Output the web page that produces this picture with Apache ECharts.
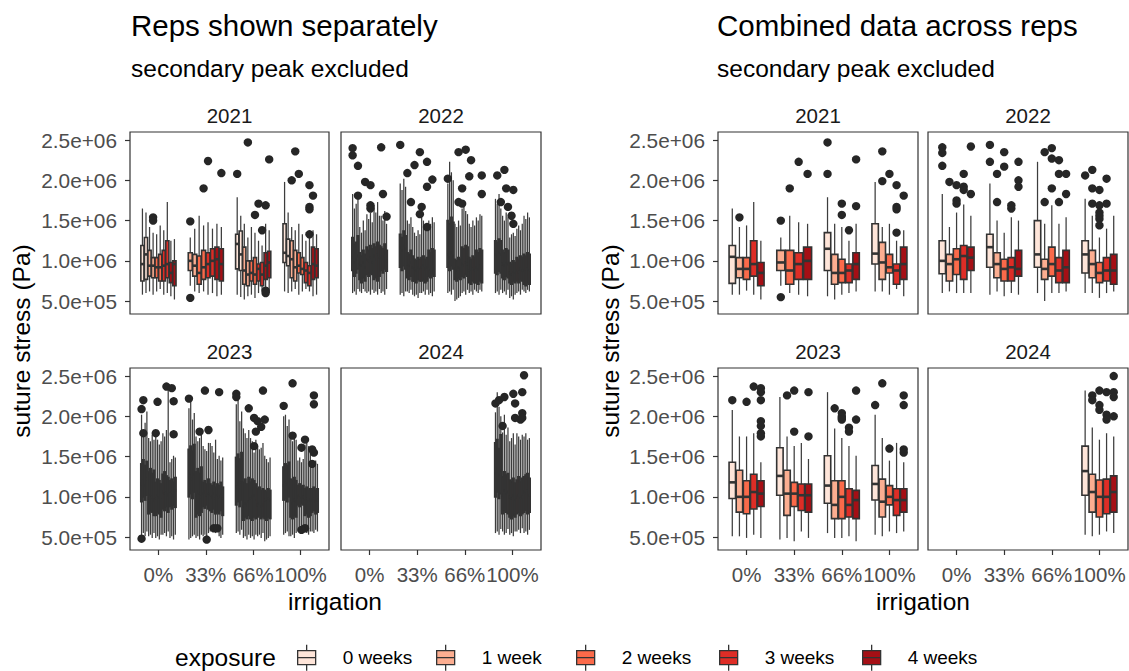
<!DOCTYPE html>
<html>
<head>
<meta charset="utf-8">
<script src="https://cdn.jsdelivr.net/npm/echarts@6/dist/echarts.min.js"></script>
<style>
  html, body { margin: 0; padding: 0; background: #ffffff; }
  #chart { width: 1129px; height: 671px; }
</style>
</head>
<body>
<div id="chart"></div>
<script>
// ---- categories and tick labels ----
const years = ['2021', '2022', '2023', '2024'];
const irrigation = ['0%', '33%', '66%', '100%'];
const exposure = ['0 weeks', '1 week', '2 weeks', '3 weeks', '4 weeks'];
const exposureColors = ['#FEE5D9', '#FCAE91', '#FB6A4A', '#DE2D26', '#A50F15'];
const stressTicksMPa = [0.5, 1.0, 1.5, 2.0, 2.5];
const stressTickLabels = ['5.0e+05', '1.0e+06', '1.5e+06', '2.0e+06', '2.5e+06'];
const PA_PER_MPA = 1e6;

// ---- combined data: [irrigation, exposure, lower whisker, Q1, median, Q3, upper whisker] (MPa) ----
const combined2021 = [
  [0,0,0.58,0.72,1.05,1.19,1.65],[0,1,0.58,0.79,0.90,1.04,1.42],[0,2,0.63,0.77,0.90,1.04,1.44],[0,3,0.58,0.81,0.96,1.25,1.73],[0,4,0.52,0.69,0.85,0.98,1.25],
  [1,1,0.69,0.88,0.98,1.13,1.29],[1,2,0.60,0.71,0.88,1.13,1.56],[1,3,0.58,0.77,0.96,1.10,1.48],[1,4,0.56,0.77,1.00,1.17,1.46],
  [2,0,0.56,0.88,1.15,1.35,1.79],[2,1,0.52,0.71,0.85,1.08,1.46],[2,2,0.58,0.73,0.85,1.02,1.42],[2,3,0.60,0.73,0.88,0.96,1.25],[2,4,0.62,0.77,0.96,1.10,1.46],
  [3,0,0.62,0.96,1.09,1.46,1.98],[3,1,0.62,0.77,0.98,1.23,1.42],[3,2,0.58,0.85,0.92,1.08,1.46],[3,3,0.65,0.71,0.88,0.96,1.25],[3,4,0.56,0.77,0.96,1.17,1.38]
];
const combined2022 = [
  [0,0,0.60,0.84,1.00,1.25,1.83],[0,1,0.62,0.75,0.96,1.08,1.42],[0,2,0.60,0.83,1.02,1.15,1.60],[0,3,0.60,0.77,1.06,1.19,1.70],[0,4,0.60,0.88,1.04,1.17,1.56],
  [1,0,0.58,0.92,1.17,1.33,1.96],[1,1,0.62,0.79,0.96,1.10,1.50],[1,2,0.56,0.75,0.90,1.02,1.35],[1,3,0.60,0.75,0.92,1.04,1.54],[1,4,0.58,0.81,0.90,1.13,1.50],
  [2,0,0.60,0.92,1.08,1.50,2.23],[2,1,0.50,0.77,0.90,1.02,1.46],[2,2,0.60,0.81,0.96,1.17,1.69],[2,3,0.60,0.73,0.88,1.04,1.46],[2,4,0.62,0.73,0.92,1.13,1.54],
  [3,0,0.60,0.85,1.08,1.25,1.77],[3,1,0.60,0.79,0.96,1.13,1.56],[3,2,0.54,0.73,0.85,0.98,1.29],[3,3,0.60,0.75,0.88,1.04,1.40],[3,4,0.62,0.71,0.88,1.08,1.56]
];
const combined2023 = [
  [0,0,0.51,0.98,1.18,1.43,2.08],[0,1,0.51,0.81,1.00,1.33,1.75],[0,2,0.49,0.79,1.00,1.20,1.75],[0,3,0.53,0.85,1.06,1.28,1.79],[0,4,0.49,0.88,1.04,1.20,1.43],
  [1,0,0.47,1.02,1.26,1.61,2.24],[1,1,0.49,0.77,1.04,1.33,1.75],[1,2,0.45,0.88,1.04,1.18,1.63],[1,3,0.57,0.83,1.02,1.16,1.67],[1,4,0.49,0.81,1.02,1.16,1.47],
  [2,0,0.55,0.92,1.14,1.51,2.30],[2,1,0.49,0.73,0.90,1.20,1.85],[2,2,0.49,0.73,1.00,1.20,1.73],[2,3,0.51,0.75,0.90,1.10,1.63],[2,4,0.45,0.73,0.96,1.08,1.51],
  [3,0,0.53,0.96,1.16,1.39,2.02],[3,1,0.51,0.75,0.94,1.22,1.73],[3,2,0.57,0.90,1.00,1.14,1.45],[3,3,0.55,0.77,0.96,1.10,1.67],[3,4,0.57,0.81,0.96,1.10,1.43]
];
const combined2024 = [
  [3,0,0.53,1.02,1.32,1.63,2.32],[3,1,0.51,0.81,1.06,1.28,1.86],[3,2,0.53,0.75,1.00,1.21,1.71],[3,3,0.57,0.79,1.00,1.22,1.79],[3,4,0.55,0.81,1.06,1.26,1.75]
];

// ---- combined outliers: [irrigation, exposure, value] (MPa) ----
const combinedOut2021 = [
  [0,1,1.54],[1,1,1.50],[1,1,0.55],[1,2,1.90],[1,3,2.23],[1,4,2.08],
  [2,0,2.47],[2,0,2.08],[2,2,1.71],[2,2,1.57],[2,3,1.38],[2,4,2.26],[2,4,1.68],
  [3,1,2.36],[3,1,1.99],[3,2,2.08],[3,3,1.94],[3,3,1.67],[3,3,1.64],[3,3,1.35],[3,4,1.81]
];
const combinedOut2022 = [
  [0,0,2.41],[0,0,2.34],[0,0,2.18],[0,1,1.98],[0,2,1.94],[0,2,1.75],[0,2,1.71],[0,3,2.08],[0,3,1.92],[0,3,1.88],[0,4,2.42],[0,4,1.83],
  [1,0,2.44],[1,0,2.23],[1,1,2.08],[1,1,1.73],[1,2,2.35],[1,2,2.17],[1,3,1.65],[1,3,1.69],[1,4,2.23],[1,4,2.00],[1,4,1.92],
  [2,1,2.35],[2,1,1.73],[2,2,2.40],[2,2,2.27],[2,2,1.90],[2,3,2.25],[2,3,2.08],[2,3,1.73],[2,4,2.08],[2,4,1.83],
  [3,0,2.06],[3,1,2.13],[3,1,1.90],[3,1,1.71],[3,2,1.88],[3,2,1.69],[3,2,1.60],[3,2,1.52],[3,2,1.44],[3,2,1.56],[3,3,2.02],[3,3,1.71]
];
const combinedOut2023 = [
  [0,0,2.20],[0,2,2.18],[0,3,2.37],[0,4,2.35],[0,4,2.30],[0,4,2.20],[0,4,1.94],[0,4,1.88],[0,4,1.79],[0,4,1.75],
  [1,1,2.26],[1,2,2.32],[1,2,1.81],[1,4,2.30],[1,4,1.75],
  [2,1,2.10],[2,2,2.04],[2,2,1.98],[2,2,2.00],[2,2,1.96],[2,3,1.86],[2,3,1.81],[2,4,2.32],[2,4,1.96],
  [3,0,2.14],[3,1,2.41],[3,2,1.60],[3,4,2.26],[3,4,2.14],[3,4,1.59],[3,4,1.55]
];
const combinedOut2024 = [
  [3,1,2.26],[3,1,2.20],[3,2,2.32],[3,2,2.14],[3,2,2.08],[3,3,2.30],[3,3,2.02],[3,3,1.96],[3,4,2.50],[3,4,2.30],[3,4,2.24],[3,4,2.00]
];

// ---- per-rep data: [irrigation, exposure, rep, lower whisker, Q1, median, Q3, upper whisker] (MPa) ----
const reps2021 = [
  [0,0,0,0.58,0.75,0.96,1.19,1.65],[0,0,1,0.60,0.77,1.08,1.29,1.60],
  [0,1,0,0.62,0.81,0.94,1.13,1.42],[0,1,1,0.58,0.79,0.94,1.04,1.35],
  [0,2,0,0.62,0.79,0.92,1.04,1.33],[0,2,1,0.65,0.75,0.92,1.08,1.44],
  [0,3,0,0.58,0.75,0.94,1.13,1.38],[0,3,1,0.60,0.79,0.96,1.25,1.73],
  [0,4,0,0.56,0.73,0.85,0.98,1.25],[0,4,1,0.52,0.69,0.96,1.00,1.27],
  [1,1,0,0.69,0.88,1.00,1.10,1.29],[1,1,1,0.62,0.81,0.94,1.08,1.40],
  [1,2,0,0.60,0.71,0.85,1.06,1.56],[1,2,1,0.62,0.77,0.92,1.13,1.44],
  [1,3,0,0.58,0.79,0.96,1.10,1.48],[1,3,1,0.60,0.81,1.00,1.15,1.40],
  [1,4,0,0.56,0.77,1.02,1.17,1.46],[1,4,1,0.58,0.75,0.96,1.15,1.42],
  [2,0,0,0.58,0.90,1.21,1.33,1.79],[2,0,1,0.55,0.88,1.08,1.37,1.56],
  [2,1,0,0.52,0.71,0.88,1.17,1.46],[2,1,1,0.56,0.69,0.83,1.00,1.29],
  [2,2,0,0.58,0.75,0.85,1.00,1.42],[2,2,1,0.54,0.71,0.83,1.04,1.35],
  [2,3,0,0.60,0.75,0.90,0.96,1.25],[2,3,1,0.62,0.69,0.83,0.98,1.19],
  [2,4,0,0.66,0.77,0.94,1.10,1.46],[2,4,1,0.60,0.79,0.98,1.12,1.38],
  [3,0,0,0.62,0.98,1.10,1.46,1.98],[3,0,1,0.60,0.94,1.06,1.27,1.60],
  [3,1,0,0.62,0.79,1.02,1.25,1.42],[3,1,1,0.65,0.75,0.92,1.13,1.38],
  [3,2,0,0.58,0.85,0.94,1.10,1.46],[3,2,1,0.62,0.83,0.90,1.04,1.33],
  [3,3,0,0.65,0.73,0.88,0.98,1.25],[3,3,1,0.62,0.69,0.85,0.94,1.29],
  [3,4,0,0.56,0.77,0.96,1.17,1.38],[3,4,1,0.58,0.79,0.94,1.15,1.33]
];
const reps2022 = [
  [0,0,0,0.60,0.88,1.04,1.29,1.83],[0,0,1,0.62,0.81,0.98,1.21,1.65],[0,0,2,0.58,0.85,1.02,1.23,1.71],[0,0,3,0.65,0.90,1.06,1.31,1.77],
  [0,1,0,0.62,0.77,0.96,1.10,1.42],[0,1,1,0.60,0.73,0.94,1.06,1.35],[0,1,2,0.65,0.79,0.98,1.13,1.50],[0,1,3,0.62,0.75,0.92,1.08,1.38],
  [0,2,0,0.60,0.83,1.02,1.17,1.58],[0,2,1,0.62,0.81,1.00,1.13,1.52],[0,2,2,0.58,0.85,1.04,1.19,1.60],[0,2,3,0.64,0.83,0.98,1.15,1.48],
  [0,3,0,0.60,0.77,1.06,1.21,1.69],[0,3,1,0.62,0.79,1.02,1.17,1.60],[0,3,2,0.58,0.75,1.08,1.23,1.73],[0,3,3,0.65,0.81,1.04,1.19,1.56],
  [0,4,0,0.60,0.88,1.04,1.17,1.56],[0,4,1,0.62,0.85,1.02,1.15,1.50],[0,4,2,0.58,0.90,1.06,1.21,1.62],[0,4,3,0.65,0.87,1.00,1.13,1.46],
  [1,0,0,0.58,0.92,1.17,1.33,1.96],[1,0,1,0.60,0.88,1.13,1.29,1.88],[1,0,2,0.56,0.94,1.19,1.37,2.02],[1,0,3,0.62,0.90,1.15,1.31,1.92],
  [1,1,0,0.62,0.79,0.96,1.10,1.50],[1,1,1,0.60,0.77,0.94,1.08,1.46],[1,1,2,0.64,0.81,0.98,1.13,1.54],[1,1,3,0.58,0.75,0.92,1.06,1.42],
  [1,2,0,0.56,0.75,0.90,1.02,1.35],[1,2,1,0.58,0.73,0.88,1.00,1.31],[1,2,2,0.54,0.77,0.92,1.04,1.38],[1,2,3,0.60,0.75,0.90,1.02,1.33],
  [1,3,0,0.60,0.75,0.92,1.04,1.54],[1,3,1,0.62,0.77,0.94,1.06,1.50],[1,3,2,0.58,0.73,0.90,1.02,1.46],[1,3,3,0.64,0.75,0.92,1.04,1.38],
  [1,4,0,0.58,0.81,0.90,1.13,1.50],[1,4,1,0.60,0.79,0.88,1.10,1.46],[1,4,2,0.56,0.83,0.92,1.15,1.54],[1,4,3,0.62,0.81,0.90,1.13,1.48],
  [2,0,0,0.60,0.92,1.08,1.50,1.96],[2,0,1,0.62,0.88,1.04,1.46,2.23],[2,0,2,0.58,0.94,1.10,1.54,2.10],[2,0,3,0.64,0.90,1.06,1.48,2.00],
  [2,1,0,0.50,0.77,0.90,1.02,1.46],[2,1,1,0.52,0.75,0.88,1.00,1.42],[2,1,2,0.54,0.79,0.92,1.04,1.50],[2,1,3,0.56,0.77,0.90,1.02,1.44],
  [2,2,0,0.60,0.81,0.96,1.17,1.65],[2,2,1,0.62,0.79,0.94,1.15,1.69],[2,2,2,0.58,0.83,0.98,1.19,1.62],[2,2,3,0.64,0.81,0.96,1.17,1.58],
  [2,3,0,0.60,0.73,0.88,1.04,1.46],[2,3,1,0.62,0.71,0.86,1.02,1.42],[2,3,2,0.58,0.75,0.90,1.06,1.50],[2,3,3,0.64,0.73,0.88,1.04,1.44],
  [2,4,0,0.62,0.73,0.92,1.13,1.54],[2,4,1,0.60,0.71,0.90,1.10,1.50],[2,4,2,0.64,0.75,0.94,1.15,1.58],[2,4,3,0.62,0.73,0.92,1.13,1.56],
  [3,0,0,0.60,0.85,1.08,1.25,1.77],[3,0,1,0.62,0.83,1.06,1.23,1.71],[3,0,2,0.58,0.87,1.10,1.27,1.83],[3,0,3,0.64,0.85,1.08,1.25,1.65],
  [3,1,0,0.60,0.79,0.96,1.13,1.56],[3,1,1,0.62,0.77,0.94,1.10,1.50],[3,1,2,0.58,0.81,0.98,1.15,1.60],[3,1,3,0.64,0.79,0.96,1.13,1.54],
  [3,2,0,0.54,0.73,0.85,0.98,1.29],[3,2,1,0.56,0.71,0.83,0.96,1.33],[3,2,2,0.52,0.75,0.87,1.00,1.35],[3,2,3,0.58,0.73,0.85,0.98,1.31],
  [3,3,0,0.60,0.75,0.88,1.04,1.40],[3,3,1,0.62,0.73,0.86,1.02,1.44],[3,3,2,0.58,0.77,0.90,1.06,1.38],[3,3,3,0.64,0.75,0.88,1.04,1.46],
  [3,4,0,0.62,0.71,0.88,1.08,1.56],[3,4,1,0.60,0.69,0.86,1.06,1.52],[3,4,2,0.64,0.73,0.90,1.10,1.60],[3,4,3,0.62,0.71,0.88,1.08,1.54]
];
const reps2023 = [
  [0,0,0,0.52,0.94,1.16,1.41,2.02],[0,0,1,0.55,1.00,1.20,1.46,1.75],[0,0,2,0.51,0.96,1.14,1.39,1.92],[0,0,3,0.57,1.02,1.22,1.44,2.06],
  [0,1,0,0.51,0.79,0.98,1.31,1.73],[0,1,1,0.53,0.83,1.02,1.35,1.69],[0,1,2,0.49,0.81,1.00,1.29,1.77],[0,1,3,0.55,0.77,0.96,1.33,1.71],
  [0,2,0,0.49,0.77,0.98,1.18,1.75],[0,2,1,0.51,0.81,1.02,1.22,1.71],[0,2,2,0.47,0.79,1.00,1.20,1.65],[0,2,3,0.53,0.75,0.98,1.16,1.69],
  [0,3,0,0.53,0.85,1.06,1.28,1.79],[0,3,1,0.55,0.83,1.04,1.31,1.75],[0,3,2,0.51,0.88,1.08,1.26,1.83],[0,3,3,0.57,0.81,1.02,1.24,2.33],
  [0,4,0,0.49,0.88,1.04,1.20,1.43],[0,4,1,0.51,0.85,1.06,1.22,1.47],[0,4,2,0.47,0.90,1.02,1.18,1.51],[0,4,3,0.53,0.87,1.08,1.24,1.49],
  [1,0,0,0.47,1.00,1.24,1.59,2.10],[1,0,1,0.49,1.04,1.29,1.63,2.24],[1,0,2,0.51,0.98,1.22,1.57,1.96],[1,0,3,0.53,1.06,1.27,1.65,2.04],
  [1,1,0,0.49,0.75,1.02,1.31,1.75],[1,1,1,0.51,0.79,1.06,1.35,1.69],[1,1,2,0.47,0.77,1.04,1.29,1.73],[1,1,3,0.53,0.81,1.00,1.37,1.77],
  [1,2,0,0.51,0.88,1.04,1.18,1.63],[1,2,1,0.53,0.86,1.06,1.20,1.59],[1,2,2,0.51,0.90,1.02,1.16,1.57],[1,2,3,0.55,0.85,1.04,1.22,1.67],
  [1,3,0,0.57,0.83,1.02,1.16,1.67],[1,3,1,0.59,0.81,1.00,1.14,1.63],[1,3,2,0.65,0.85,1.04,1.18,1.55],[1,3,3,0.55,0.79,0.98,1.12,1.71],
  [1,4,0,0.65,0.81,1.02,1.16,1.47],[1,4,1,0.51,0.79,1.00,1.14,1.51],[1,4,2,0.49,0.83,1.04,1.18,1.45],[1,4,3,0.53,0.77,0.98,1.12,1.49],
  [2,0,0,0.55,0.90,1.12,1.49,2.15],[2,0,1,0.57,0.94,1.16,1.53,2.30],[2,0,2,0.53,0.88,1.10,1.47,1.94],[2,0,3,0.59,0.96,1.18,1.55,2.06],
  [2,1,0,0.49,0.71,0.88,1.18,1.85],[2,1,1,0.51,0.75,0.92,1.22,1.79],[2,1,2,0.47,0.73,0.90,1.16,1.73],[2,1,3,0.53,0.77,0.94,1.24,1.83],
  [2,2,0,0.49,0.73,0.98,1.18,1.73],[2,2,1,0.51,0.71,1.00,1.22,1.69],[2,2,2,0.47,0.75,1.02,1.20,1.55],[2,2,3,0.53,0.73,0.96,1.16,1.71],
  [2,3,0,0.51,0.75,0.90,1.10,1.63],[2,3,1,0.53,0.77,0.92,1.12,1.59],[2,3,2,0.49,0.73,0.88,1.08,1.61],[2,3,3,0.55,0.75,0.90,1.10,1.67],
  [2,4,0,0.45,0.73,0.96,1.08,1.51],[2,4,1,0.47,0.71,0.94,1.06,1.47],[2,4,2,0.49,0.75,0.98,1.10,1.43],[2,4,3,0.51,0.73,0.96,1.08,1.49],
  [3,0,0,0.53,0.96,1.14,1.37,2.00],[3,0,1,0.55,0.98,1.18,1.41,2.02],[3,0,2,0.57,0.94,1.16,1.39,1.88],[3,0,3,0.51,1.00,1.12,1.43,1.96],
  [3,1,0,0.51,0.75,0.94,1.22,1.73],[3,1,1,0.53,0.73,0.92,1.20,1.69],[3,1,2,0.49,0.77,0.96,1.24,1.75],[3,1,3,0.55,0.75,0.94,1.20,1.71],
  [3,2,0,0.57,0.90,1.00,1.14,1.45],[3,2,1,0.55,0.88,1.02,1.16,1.49],[3,2,2,0.63,0.92,0.98,1.12,1.43],[3,2,3,0.57,0.90,1.00,1.14,1.47],
  [3,3,0,0.65,0.77,0.96,1.10,1.65],[3,3,1,0.55,0.79,0.98,1.12,1.67],[3,3,2,0.53,0.75,0.94,1.08,1.63],[3,3,3,0.57,0.77,0.96,1.10,1.61],
  [3,4,0,0.57,0.81,0.96,1.10,1.37],[3,4,1,0.55,0.83,0.98,1.12,1.43],[3,4,2,0.59,0.79,0.94,1.08,1.45],[3,4,3,0.57,0.81,0.96,1.10,1.41]
];
const reps2024 = [
  [3,0,0,0.55,1.00,1.29,1.67,2.05],[3,0,1,0.57,1.06,1.35,1.71,2.30],[3,0,2,0.53,0.98,1.27,1.60,2.12],[3,0,3,0.60,1.04,1.33,1.77,2.00],
  [3,1,0,0.57,0.79,1.02,1.25,1.80],[3,1,1,0.53,0.83,1.08,1.31,2.02],[3,1,2,0.55,0.81,1.04,1.27,1.77],[3,1,3,0.60,0.79,1.06,1.29,1.86],
  [3,2,0,0.53,0.75,1.00,1.21,1.69],[3,2,1,0.55,0.73,0.98,1.19,1.73],[3,2,2,0.51,0.77,1.02,1.23,1.79],[3,2,3,0.57,0.75,0.96,1.17,1.65],
  [3,3,0,0.57,0.79,1.00,1.21,1.79],[3,3,1,0.59,0.81,1.02,1.25,1.75],[3,3,2,0.55,0.77,0.98,1.19,1.71],[3,3,3,0.61,0.79,1.00,1.23,1.77],
  [3,4,0,0.55,0.81,1.06,1.25,1.75],[3,4,1,0.57,0.83,1.04,1.27,1.79],[3,4,2,0.53,0.79,1.08,1.29,1.71],[3,4,3,0.59,0.81,1.02,1.23,1.73]
];

// ---- per-rep outliers: [irrigation, exposure, rep, value] (MPa) ----
const repOut2021 = [
  [0,1,1,1.54],[0,1,1,1.50],
  [1,1,0,1.49],[1,1,0,0.54],[1,2,1,1.90],[1,3,0,2.24],[1,4,1,2.09],
  [2,0,0,2.08],[2,1,1,2.47],[2,2,1,1.57],[2,3,0,1.71],[2,3,1,1.38],[2,4,0,1.69],[2,4,1,2.26],[2,4,0,0.63],[2,4,0,0.60],
  [3,1,1,2.36],[3,1,0,2.00],[3,2,0,2.08],[3,3,1,1.94],[3,3,1,1.67],[3,3,1,1.64],[3,3,1,1.33],[3,4,0,1.81]
];
const repOut2022 = [
  [0,0,0,2.40],[0,0,0,2.31],[0,0,3,2.18],[0,0,3,1.81],[0,1,3,1.98],[0,2,2,1.94],[0,2,2,1.69],[0,2,2,1.65],[0,4,0,2.41],[0,4,1,1.83],[0,4,3,1.55],
  [1,0,0,2.44],[1,2,3,2.35],[1,2,0,2.19],[1,3,3,2.23],[1,1,0,2.09],[1,4,2,2.01],[1,3,3,1.92],[1,1,2,1.73],[1,3,0,1.67],[1,2,3,1.58],[1,3,3,1.42],
  [2,1,2,2.35],[2,1,2,1.73],[2,2,2,2.38],[2,3,1,2.25],[2,0,0,2.02],[2,4,3,2.06],[2,4,3,1.83],[2,3,0,2.05],[2,2,0,1.90],[2,2,0,1.71],
  [3,0,1,2.06],[3,1,1,2.13],[3,2,2,1.88],[3,2,2,1.46],[3,1,2,1.90],[3,0,3,1.73],[3,1,3,1.67],[3,2,1,1.56]
];
const repOut2023 = [
  [0,0,0,0.48],[0,0,0,2.09],[0,0,1,2.20],[0,0,1,1.79],[0,2,1,2.18],[0,2,0,1.79],[0,3,2,2.37],[0,4,1,2.35],[0,4,2,2.20],[0,4,2,1.79],
  [1,0,0,2.22],[1,2,1,2.32],[1,4,1,2.30],[1,1,2,1.81],[1,2,3,1.83],[1,2,2,0.47],[1,3,2,0.61],[1,4,0,0.61],
  [2,0,0,2.28],[2,0,0,2.24],[2,1,3,2.10],[2,2,2,1.98],[2,3,0,1.94],[2,3,2,1.87],[2,4,0,1.96],[2,2,3,1.81],[2,2,2,1.63],[2,3,3,2.32],
  [3,0,0,2.13],[3,1,1,2.41],[3,1,1,1.76],[3,2,2,1.61],[3,3,0,1.71],[3,4,1,2.26],[3,4,1,2.15],[3,4,0,1.59],[3,4,1,1.55],[3,4,0,1.41],[3,3,0,0.61],[3,2,2,0.59]
];
const repOut2024 = [
  [3,0,0,2.16],[3,0,2,2.20],[3,1,1,2.24],[3,1,0,1.88],[3,2,2,2.28],[3,2,3,2.16],[3,2,3,1.98],[3,3,2,1.96],[3,3,3,2.30],[3,3,3,2.04],[3,3,3,1.98],[3,4,0,2.51]
];

const repsByYear = [reps2021, reps2022, reps2023, reps2024];
const repOutByYear = [repOut2021, repOut2022, repOut2023, repOut2024];
const combinedByYear = [combined2021, combined2022, combined2023, combined2024];
const combinedOutByYear = [combinedOut2021, combinedOut2022, combinedOut2023, combinedOut2024];

// ---- layout ----
const FONT = '"Liberation Sans", Arial, Helvetica, sans-serif';
const INK = '#333333';
const PANEL_H = 182;
const Y_MIN = 0.34 * PA_PER_MPA, Y_MAX = 2.6 * PA_PER_MPA;
const panels = [
  { side: 'reps',     year: 0, left: 130, top: 132, width: 199, showY: true,  showX: false },
  { side: 'reps',     year: 1, left: 341, top: 132, width: 200, showY: false, showX: false },
  { side: 'reps',     year: 2, left: 130, top: 368, width: 199, showY: true,  showX: true },
  { side: 'reps',     year: 3, left: 341, top: 368, width: 200, showY: false, showX: true },
  { side: 'combined', year: 0, left: 718, top: 132, width: 200, showY: true,  showX: false },
  { side: 'combined', year: 1, left: 928, top: 132, width: 200, showY: false, showX: false },
  { side: 'combined', year: 2, left: 718, top: 368, width: 200, showY: true,  showX: true },
  { side: 'combined', year: 3, left: 928, top: 368, width: 200, showY: false, showX: true }
];
const legendLefts = [297, 436, 576, 719, 862];

// Horizontal position of a dodged box: boxes of one irrigation level share 75% of the unit width.
function dodgeX(api, irr, slot, nSlots) {
  const unit = api.size([1, 0])[0];
  const dodge = unit * 0.75;
  const slotW = dodge / nSlots;
  const cx = api.coord([irr, Y_MIN])[0] - dodge / 2 + slotW * (slot + 0.5);
  return { cx, half: slotW * 0.9 / 2 };
}

function renderBox(params, api) {
  const irr = api.value(0);
  const { cx, half } = dodgeX(api, irr, api.value(6), api.value(7));
  const y = i => api.coord([irr, api.value(i)])[1];
  const yLow = y(1), yQ1 = y(2), yMed = y(3), yQ3 = y(4), yHigh = y(5);
  return {
    type: 'group',
    children: [
      { type: 'line', shape: { x1: cx, y1: yQ3, x2: cx, y2: yHigh }, style: { stroke: '#3d3d3d', lineWidth: 1.25 } },
      { type: 'line', shape: { x1: cx, y1: yQ1, x2: cx, y2: yLow }, style: { stroke: '#3d3d3d', lineWidth: 1.25 } },
      { type: 'rect', shape: { x: cx - half, y: yQ3, width: half * 2, height: yQ1 - yQ3 },
        style: { fill: api.visual('color'), stroke: INK, lineWidth: 1.6 } },
      { type: 'line', shape: { x1: cx - half, y1: yMed, x2: cx + half, y2: yMed }, style: { stroke: INK, lineWidth: 2.6 } }
    ]
  };
}

function renderOutlier(params, api) {
  const irr = api.value(0);
  const { cx } = dodgeX(api, irr, api.value(2), api.value(3));
  const cy = api.coord([irr, api.value(1)])[1];
  return { type: 'circle', shape: { cx, cy, r: 4.2 }, style: { fill: '#262626' } };
}

// Slot order inside each irrigation level: by exposure, then by rep.
function buildSlots(boxes) {
  const slot = new Map(), count = new Map();
  irrigation.forEach((_, i) => {
    const grp = boxes.filter(b => b.irr === i).sort((a, b) => a.exp - b.exp || a.rep - b.rep);
    grp.forEach((b, k) => slot.set(i + '|' + b.exp + '|' + b.rep, k));
    count.set(i, grp.length);
  });
  return { slot, count };
}

const grids = [], xAxes = [], yAxes = [], series = [];
panels.forEach((p, g) => {
  grids.push({ left: p.left, top: p.top, width: p.width, height: PANEL_H, show: true,
    borderColor: INK, borderWidth: 1.2, backgroundColor: '#ffffff' });
  xAxes.push({
    type: 'value', gridIndex: g, min: -0.6, max: 3.6,
    splitLine: { show: false }, axisLine: { show: false, onZero: false },
    axisTick: { show: p.showX, length: 5, customValues: [0, 1, 2, 3], lineStyle: { color: INK, width: 1.2 } },
    axisLabel: { show: p.showX, customValues: [0, 1, 2, 3], margin: 14,
      formatter: v => irrigation[Math.round(v)] || '', fontSize: 20.5, color: '#4d4d4d', fontFamily: FONT }
  });
  yAxes.push({
    type: 'value', gridIndex: g, min: Y_MIN, max: Y_MAX,
    splitLine: { show: false }, axisLine: { show: false, onZero: false },
    axisTick: { show: p.showY, length: 5, customValues: stressTicksMPa.map(v => v * PA_PER_MPA), lineStyle: { color: INK, width: 1.2 } },
    axisLabel: { show: p.showY, customValues: stressTicksMPa.map(v => v * PA_PER_MPA), margin: 13,
      formatter: v => stressTickLabels[stressTicksMPa.findIndex(t => Math.abs(t * PA_PER_MPA - v) < 1)] || '',
      fontSize: 20.8, color: '#4d4d4d', fontFamily: FONT }
  });

  let boxes, outs;
  if (p.side === 'reps') {
    boxes = repsByYear[p.year].map(r => ({ irr: r[0], exp: r[1], rep: r[2], stats: r.slice(3) }));
    outs = repOutByYear[p.year].map(r => ({ irr: r[0], exp: r[1], rep: r[2], v: r[3] }));
  } else {
    boxes = combinedByYear[p.year].map(r => ({ irr: r[0], exp: r[1], rep: 0, stats: r.slice(2) }));
    outs = combinedOutByYear[p.year].map(r => ({ irr: r[0], exp: r[1], rep: 0, v: r[2] }));
  }
  const { slot, count } = buildSlots(boxes);

  exposure.forEach((name, e) => {
    series.push({
      type: 'custom', name, xAxisIndex: g, yAxisIndex: g,
      itemStyle: { color: exposureColors[e] },
      renderItem: renderBox,
      data: boxes.filter(b => b.exp === e).map(b => [
        b.irr, ...b.stats.map(v => v * PA_PER_MPA),
        slot.get(b.irr + '|' + b.exp + '|' + b.rep), count.get(b.irr)
      ])
    });
  });
  series.push({
    type: 'custom', name: 'outliers', xAxisIndex: g, yAxisIndex: g, z: 3,
    itemStyle: { color: '#262626' },
    renderItem: renderOutlier,
    data: outs.map(o => [o.irr, o.v * PA_PER_MPA, slot.get(o.irr + '|' + o.exp + '|' + o.rep), count.get(o.irr)])
  });
});

function text(str, x, y, size, color, align, rotation) {
  return {
    type: 'text', x, y, rotation: rotation || 0, silent: true,
    style: { text: str, x: 0, y: 0, font: size + 'px ' + FONT, fill: color,
      align: align, textAlign: align, verticalAlign: 'middle', textVerticalAlign: 'middle' }
  };
}

const labels = [
  text('Reps shown separately', 131, 25, 29.5, '#000000', 'left'),
  text('secondary peak excluded', 131, 68, 24.5, '#000000', 'left'),
  text('Combined data across reps', 717, 25, 29.5, '#000000', 'left'),
  text('secondary peak excluded', 717, 68, 24.5, '#000000', 'left'),
  text('suture stress (Pa)', 21, 341, 24.5, '#000000', 'center', Math.PI / 2),
  text('suture stress (Pa)', 610, 341, 24.5, '#000000', 'center', Math.PI / 2),
  text('irrigation', 335, 601, 24.5, '#000000', 'center'),
  text('irrigation', 923, 601, 24.5, '#000000', 'center'),
  text('exposure', 175, 657, 24.5, '#000000', 'left')
];
panels.forEach(p => {
  labels.push(text(years[p.year], p.left + p.width / 2, p.top - 17, 20.5, '#1a1a1a', 'center'));
});

// One legend block per exposure level so the keys sit on a fixed pitch.
// The key glyph is a small box-and-whisker; the trailing move-to widens its slot.
const legends = exposure.map((name, e) => ({
  data: [name], orient: 'horizontal', left: legendLefts[e], top: 644, padding: 0,
  itemWidth: 40, itemHeight: 26, selectedMode: false,
  icon: 'path://M9,0L9,6M0,6L18,6L18,20L0,20ZM0,13L18,13M9,20L9,26M40,13',
  itemStyle: { borderColor: INK, borderWidth: 1.3 },
  textStyle: { fontSize: 19, color: '#000000', fontFamily: FONT }
}));

const chart = echarts.init(document.getElementById('chart'), null, { renderer: 'svg', width: 1129, height: 671 });
chart.setOption({
  animation: false,
  backgroundColor: '#ffffff',
  grid: grids,
  xAxis: xAxes,
  yAxis: yAxes,
  legend: legends,
  graphic: labels,
  series
});
</script>
</body>
</html>
